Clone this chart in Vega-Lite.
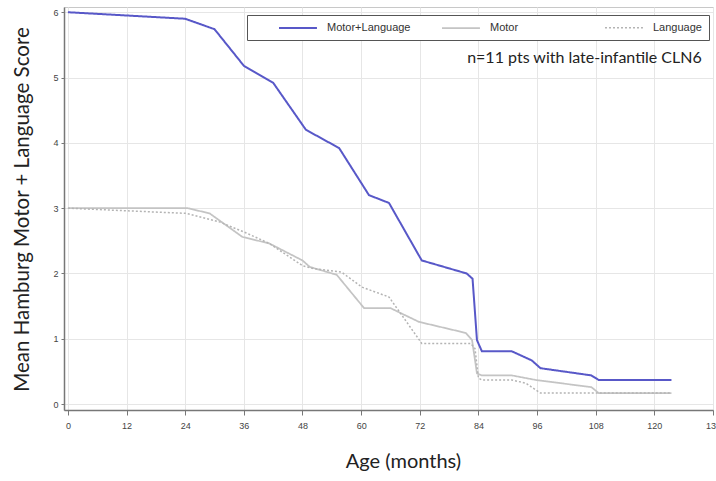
{
  "$schema": "https://vega.github.io/schema/vega-lite/v6.json",
  "width": 649,
  "height": 403,
  "autosize": {"type": "none"},
  "padding": {"left": 64, "top": 7, "right": 3, "bottom": 71},
  "background": "white",
  "config": {
    "view": {"stroke": "#c8c8c8", "strokeWidth": 1},
    "font": "Lato"
  },
  "datasets": {
    "curves": [
      {"series": "Motor+Language", "age": 0, "score": 6.0},
      {"series": "Motor+Language", "age": 24, "score": 5.9},
      {"series": "Motor+Language", "age": 30, "score": 5.74},
      {"series": "Motor+Language", "age": 36, "score": 5.18},
      {"series": "Motor+Language", "age": 42, "score": 4.92},
      {"series": "Motor+Language", "age": 48.7, "score": 4.2},
      {"series": "Motor+Language", "age": 55.5, "score": 3.92},
      {"series": "Motor+Language", "age": 61.6, "score": 3.2},
      {"series": "Motor+Language", "age": 65.7, "score": 3.08},
      {"series": "Motor+Language", "age": 72.4, "score": 2.2},
      {"series": "Motor+Language", "age": 81.6, "score": 2.0},
      {"series": "Motor+Language", "age": 82.8, "score": 1.92},
      {"series": "Motor+Language", "age": 83.7, "score": 0.98},
      {"series": "Motor+Language", "age": 84.7, "score": 0.81},
      {"series": "Motor+Language", "age": 90.8, "score": 0.81},
      {"series": "Motor+Language", "age": 94.9, "score": 0.67},
      {"series": "Motor+Language", "age": 96.7, "score": 0.55},
      {"series": "Motor+Language", "age": 107.1, "score": 0.44},
      {"series": "Motor+Language", "age": 108.6, "score": 0.37},
      {"series": "Motor+Language", "age": 123.5, "score": 0.37},
      {"series": "Motor", "age": 0, "score": 3.0},
      {"series": "Motor", "age": 24.5, "score": 3.0},
      {"series": "Motor", "age": 29, "score": 2.92},
      {"series": "Motor", "age": 35.7, "score": 2.56},
      {"series": "Motor", "age": 41.2, "score": 2.46},
      {"series": "Motor", "age": 48, "score": 2.2},
      {"series": "Motor", "age": 49.5, "score": 2.1},
      {"series": "Motor", "age": 55, "score": 1.98},
      {"series": "Motor", "age": 60.6, "score": 1.47},
      {"series": "Motor", "age": 66, "score": 1.47},
      {"series": "Motor", "age": 71.8, "score": 1.26},
      {"series": "Motor", "age": 81.4, "score": 1.09},
      {"series": "Motor", "age": 82.7, "score": 0.98},
      {"series": "Motor", "age": 83.7, "score": 0.47},
      {"series": "Motor", "age": 84.7, "score": 0.44},
      {"series": "Motor", "age": 90.8, "score": 0.44},
      {"series": "Motor", "age": 95.7, "score": 0.37},
      {"series": "Motor", "age": 107.1, "score": 0.26},
      {"series": "Motor", "age": 108.6, "score": 0.17},
      {"series": "Motor", "age": 123.5, "score": 0.17},
      {"series": "Language", "age": 0, "score": 3.0},
      {"series": "Language", "age": 12, "score": 2.96},
      {"series": "Language", "age": 24.3, "score": 2.92},
      {"series": "Language", "age": 31, "score": 2.79},
      {"series": "Language", "age": 36.5, "score": 2.62},
      {"series": "Language", "age": 41.2, "score": 2.46},
      {"series": "Language", "age": 48, "score": 2.12},
      {"series": "Language", "age": 50, "score": 2.08},
      {"series": "Language", "age": 56, "score": 2.02},
      {"series": "Language", "age": 60.2, "score": 1.79},
      {"series": "Language", "age": 65.7, "score": 1.64},
      {"series": "Language", "age": 72.4, "score": 0.93},
      {"series": "Language", "age": 82.4, "score": 0.93},
      {"series": "Language", "age": 83.3, "score": 0.85},
      {"series": "Language", "age": 84, "score": 0.4},
      {"series": "Language", "age": 84.7, "score": 0.37},
      {"series": "Language", "age": 90.8, "score": 0.37},
      {"series": "Language", "age": 93.7, "score": 0.32},
      {"series": "Language", "age": 96.7, "score": 0.17},
      {"series": "Language", "age": 123.5, "score": 0.17}
    ]
  },
  "layer": [
    {
      "data": {"name": "curves"},
      "mark": {"type": "line", "interpolate": "linear"},
      "encoding": {
        "x": {
          "field": "age",
          "type": "quantitative",
          "scale": {"domain": [-0.8, 132], "nice": false, "zero": false},
          "axis": {
            "title": "Age (months)",
            "values": [0, 12, 24, 36, 48, 60, 72, 84, 96, 108, 120, 132],
            "format": "d",
            "titleFont": "Lato",
            "titleFontSize": 20,
            "titleFontWeight": "normal",
            "titleColor": "#222",
            "titleX": 339,
            "titlePadding": 21,
            "labelFont": "Liberation Sans",
            "labelFontSize": 9,
            "labelColor": "#444",
            "labelPadding": 6,
            "labelFlush": false,
            "labelOverlap": false,
            "domainColor": "#777",
            "domainWidth": 1.5,
            "tickColor": "#777",
            "tickSize": 5,
            "gridColor": "#e6e6e6"
          }
        },
        "y": {
          "field": "score",
          "type": "quantitative",
          "scale": {"domain": [-0.09, 6.08], "nice": false, "zero": false},
          "axis": {
            "title": "Mean Hamburg Motor + Language Score",
            "values": [0, 1, 2, 3, 4, 5, 6],
            "format": "d",
            "titleFont": "Lato",
            "titleFontSize": 20.5,
            "titleFontWeight": "normal",
            "titleColor": "#222",
            "titleY": 202,
            "titlePadding": 20,
            "labelFont": "Liberation Sans",
            "labelFontSize": 9,
            "labelColor": "#444",
            "labelPadding": 3,
            "labelFlush": false,
            "domainColor": "#777",
            "domainWidth": 1.5,
            "tickColor": "#777",
            "tickSize": 3,
            "gridColor": "#e6e6e6"
          }
        },
        "color": {
          "field": "series",
          "type": "nominal",
          "scale": {
            "domain": ["Motor+Language", "Motor", "Language"],
            "range": ["#5858c8", "#c4c4c4", "#b4b4b4"]
          },
          "legend": {
            "orient": "none",
            "legendX": 183,
            "legendY": 8,
            "direction": "horizontal",
            "columns": 3,
            "title": "\u00a0",
            "titleOrient": "left",
            "titleFontSize": 8,
            "titlePadding": 19,
            "symbolType": "M0,0H8",
            "symbolSize": 90,
            "labelFont": "Liberation Sans",
            "labelFontSize": 11,
            "labelColor": "#333",
            "labelOffset": 42,
            "columnPadding": 25,
            "gridAlign": "all",
            "padding": 7,
            "strokeColor": "#555",
            "fillColor": "white"
          }
        },
        "strokeDash": {
          "field": "series",
          "type": "nominal",
          "scale": {
            "domain": ["Motor+Language", "Motor", "Language"],
            "range": [[1, 0], [1, 0], [2, 2]]
          }
        },
        "strokeWidth": {
          "field": "series",
          "type": "nominal",
          "scale": {
            "domain": ["Motor+Language", "Motor", "Language"],
            "range": [2, 1.5, 1.5]
          }
        }
      }
    },
    {
      "data": {"values": [{}]},
      "mark": {
        "type": "text",
        "align": "right",
        "baseline": "middle",
        "font": "Lato",
        "fontSize": 16,
        "color": "#222"
      },
      "encoding": {
        "x": {"datum": 129.7, "type": "quantitative"},
        "y": {"datum": 5.3, "type": "quantitative"},
        "text": {"value": "n=11 pts with late-infantile CLN6"}
      }
    }
  ]
}
